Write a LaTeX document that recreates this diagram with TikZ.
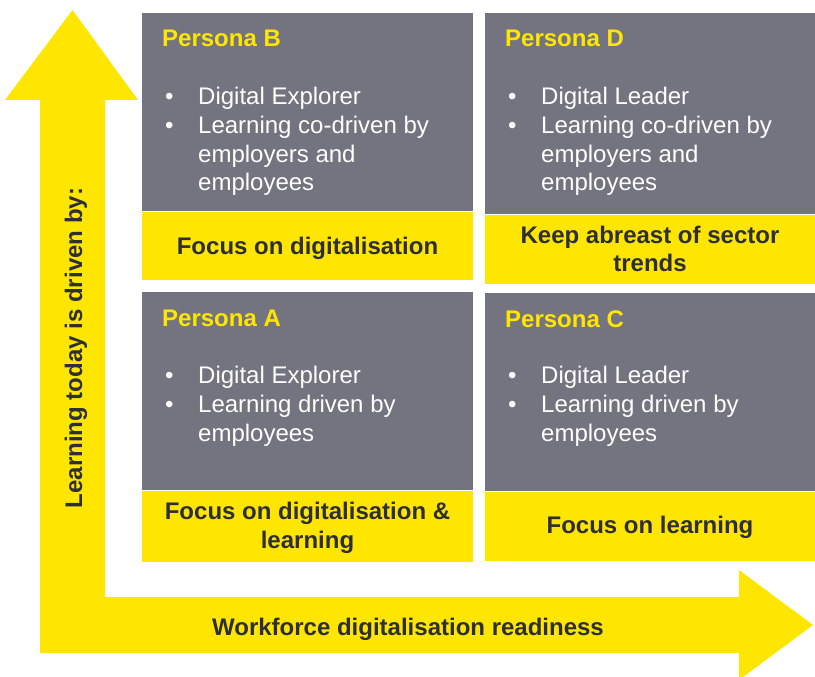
\documentclass[tikz,border=0pt]{standalone}
\usepackage{fontspec}
\setmainfont{Liberation Sans}
\usepackage{xcolor}
\usepackage{tikz}
\usetikzlibrary{positioning}

\definecolor{eyyellow}{HTML}{FFE600}
\definecolor{eygray}{HTML}{747480}
\definecolor{eydark}{HTML}{2E2E38}

\newcommand{\pitem}[1]{\makebox[33pt][l]{\textbullet}\parbox[t]{262pt}{#1}}

\begin{document}
\begin{tikzpicture}[
    x=1pt, y=-1pt,
    persona/.style={rectangle, fill=eygray, anchor=north west, inner sep=0pt},
    focus/.style={rectangle, fill=eyyellow, anchor=north west, inner sep=0pt},
    ptitle/.style={anchor=base west, inner sep=0pt, text=eyyellow, font=\fontsize{24}{28.8}\selectfont\bfseries},
    ptext/.style={anchor=base west, inner sep=0pt, text=white, font=\fontsize{24}{28.8}\selectfont},
    ftext/.style={anchor=center, inner sep=0pt, align=center, text=eydark, font=\fontsize{24}{28.8}\selectfont\bfseries},
]
\useasboundingbox (0,0) rectangle (815,677);

% Axis arrow
\fill[eyyellow] (40,653) -- (40,100) -- (5,100) -- (72.5,10) -- (138,100) -- (105,100)
    -- (105,597) -- (739,597) -- (739,570) -- (813,625) -- (739,680) -- (739,653) -- cycle;
\node[ftext, anchor=base, rotate=90] (ylab) at (82,348) {Learning today is driven by:};
\node[ftext, anchor=base] (xlab) at (408,635) {Workforce digitalisation readiness};

% Persona B
\node[persona, minimum width=331pt, minimum height=198pt] (pb) at (142,13) {};
\node[focus, minimum width=331pt, minimum height=68pt] (fb) at (pb.south west) {};
\node[ptitle] (tb) at (162,47) {Persona B};
\node[ptext] (b1) at (165,104.5) {\pitem{Digital Explorer}};
\node[ptext] (b2) at (165,133.3) {\pitem{Learning co-driven by\\employers and\\employees}};
\node[ftext] (xb) at (307.5,248.8) {Focus on digitalisation};

% Persona D
\node[persona, minimum width=330pt, minimum height=201pt] (pd) at (485,13) {};
\node[focus, minimum width=330pt, minimum height=69pt] (fd) at (pd.south west) {};
\node[ptitle] (td) at (505,47) {Persona D};
\node[ptext] (d1) at (508,104.5) {\pitem{Digital Leader}};
\node[ptext] (d2) at (508,133.3) {\pitem{Learning co-driven by\\employers and\\employees}};
\node[ftext] (xd) at (650,249) {Keep abreast of sector\\trends};

% Persona A
\node[persona, minimum width=331pt, minimum height=198pt] (pa) at (142,292) {};
\node[focus, minimum width=331pt, minimum height=71pt] (fa) at (pa.south west) {};
\node[ptitle] (ta) at (162,326) {Persona A};
\node[ptext] (a1) at (165,383.5) {\pitem{Digital Explorer}};
\node[ptext] (a2) at (165,412.3) {\pitem{Learning driven by\\employees}};
\node[ftext] (xa) at (307.5,528.2) {Focus on digitalisation \&\\learning};

% Persona C
\node[persona, minimum width=330pt, minimum height=198pt] (pc) at (485,293) {};
\node[focus, minimum width=330pt, minimum height=69pt] (fc) at (pc.south west) {};
\node[ptitle] (tc) at (505,327) {Persona C};
\node[ptext] (c1) at (508,383.5) {\pitem{Digital Leader}};
\node[ptext] (c2) at (508,412.3) {\pitem{Learning driven by\\employees}};
\node[ftext] (xc) at (650,527.8) {Focus on learning};
\end{tikzpicture}
\end{document}
